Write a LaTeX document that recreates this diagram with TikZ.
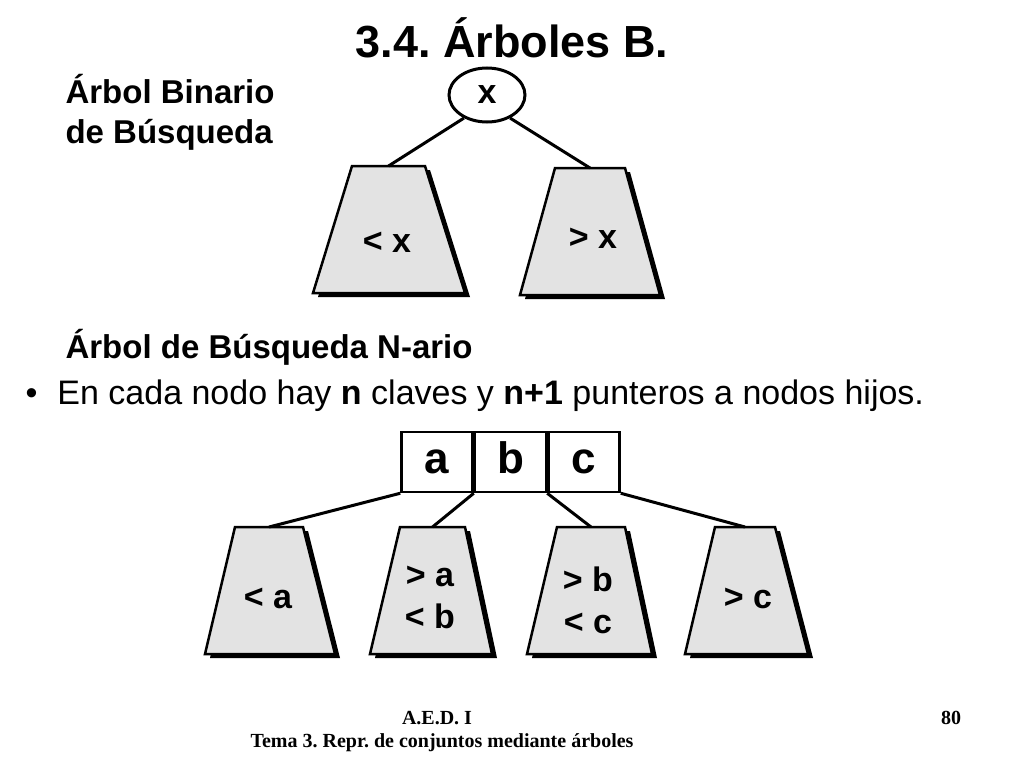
\documentclass[tikz,border=0pt]{standalone}
\usepackage{fontspec}
\setmainfont{Liberation Sans}
\newfontfamily\timesf{Liberation Serif}
\usetikzlibrary{shapes.geometric}
\begin{document}
\begin{tikzpicture}[x=1pt,y=-1pt,
  lbl/.style={font=\fontsize{34}{38}\selectfont\bfseries},
  key/.style={draw,line width=2.5pt,minimum height=60pt,inner sep=0pt,text height=24pt,text depth=1pt,font=\fontsize{44}{48}\selectfont\bfseries},
  edge/.style={line width=3pt}]
\useasboundingbox (0,0) rectangle (1024,768);
\newcommand{\tree}[6]{%
  \fill[black] (#2+5,#6+4) -- (#3+5,#6+4) -- (#5+5,#6+131) -- (#4+5,#6+131) -- cycle;
  \filldraw[fill=gray!22,draw=black,line width=2.5pt] (#2,#6) -- (#3,#6) -- (#5,#6+127) -- (#4,#6+127) -- cycle;
  \coordinate (#1) at ({(#2+#3)/2},#6);}
\node[font=\fontsize{45}{50}\selectfont\bfseries] (title) at (512,38) {3.4.\ Árboles B.};
\node[anchor=west,align=left,font=\fontsize{33}{40}\selectfont\bfseries] (bin) at (62,112) {Árbol Binario\\de Búsqueda};
\tree{tl}{352}{425}{313}{465}{166}
\tree{tr}{555}{625}{520}{660}{168}
\node[lbl] at (387,242) {< x};
\node[lbl] at (593,238) {> x};
\node[draw,line width=3pt,ellipse,minimum width=76pt,minimum height=54pt,inner sep=0pt,fill=white,lbl] (x) at (487,95) {x};
\draw[edge] (x.225) -- (tl);
\draw[edge] (x.-45) -- (tr);
\node[anchor=west,font=\fontsize{33}{38}\selectfont\bfseries] (nar) at (62,347) {Árbol de Búsqueda N-ario};
\node[anchor=west,font=\fontsize{34}{38}\selectfont] (bul) at (22,396) {•\hspace{20pt}En cada nodo hay \textbf{n} claves y \textbf{n+1} punteros a nodos hijos.};
\tree{t1}{235}{303}{205}{335}{527}
\tree{t2}{400}{465}{370}{492}{527}
\tree{t3}{557}{625}{527}{652}{527}
\tree{t4}{715}{775}{685}{808}{527}
\node[lbl] at (268,598) {< a};
\node[lbl,align=center,font=\fontsize{34}{42}\selectfont\bfseries] at (430,597) {> a\\< b};
\node[lbl,align=center,font=\fontsize{34}{42}\selectfont\bfseries] at (588,600) {> b\\< c};
\node[lbl] at (748,598) {> c};
\node[key,minimum width=71pt] (ka) at (437,462) {a};
\node[key,minimum width=71pt,anchor=west] (kb) at (ka.east) {b};
\node[key,minimum width=71pt,anchor=west] (kc) at (kb.east) {c};
\draw[edge] (ka.south west) -- (t1);
\draw[edge] (ka.south east) -- (t2);
\draw[edge] (kb.south east) -- (t3);
\draw[edge] (kc.south east) -- (t4);
\node[font=\timesf\bfseries\fontsize{20}{23}\selectfont] (f1) at (437,718) {A.E.D. I};
\node[font=\timesf\bfseries\fontsize{20}{23}\selectfont] (f2) at (442,743) {Tema 3.\ Repr.\ de conjuntos mediante árboles};
\node[font=\timesf\bfseries\fontsize{20}{23}\selectfont] (f3) at (951,718) {80};
\end{tikzpicture}
\end{document}
